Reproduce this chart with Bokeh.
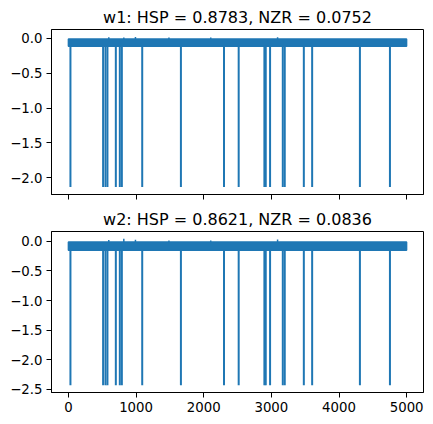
from bokeh.plotting import figure
from bokeh.layouts import column
from bokeh.models import Range1d, FixedTicker
from bokeh.embed import file_html
from bokeh.resources import INLINE

# ---- data ----
n_samples = 5000
spike_x = [30, 513, 548, 577, 701, 760, 790, 1091, 1663, 2300, 2517,
           2897, 2917, 2981, 3169, 3198, 3480, 3603, 4309, 4753]
w1_spike_y = [-2.13, -2.13, -2.13, -2.13, -2.13, -2.13, -2.13, -2.13, -2.13, -2.13,
              -2.13, -2.13, -2.13, -2.13, -2.13, -2.13, -2.13, -2.13, -2.13, -2.13]
w2_spike_y = [-2.43, -2.43, -2.43, -2.43, -2.43, -2.43, -2.43, -2.43, -2.43, -2.43,
              -2.43, -2.43, -2.43, -2.43, -2.43, -2.43, -2.43, -2.43, -2.43, -2.43]
peak_x = [597, 819, 991, 1486, 2104, 3092]
w1_peak_y = [0.015, 0.01, 0.0175, 0.01, 0.01, 0.015]
w2_peak_y = [0.02, 0.042, 0.025, 0.015, 0.015, 0.03]
w1_band = [-0.01, -0.115]   # upper, lower edge of the dense noise
w2_band = [-0.01, -0.15]

titles = ["w1: HSP = 0.8783, NZR = 0.0752", "w2: HSP = 0.8621, NZR = 0.0836"]
x_ticks = [0, 1000, 2000, 3000, 4000, 5000]
x_tick_labels = ["0", "1000", "2000", "3000", "4000", "5000"]
w1_y_ticks = [0.0, -0.5, -1.0, -1.5, -2.0]
w1_y_labels = ["0.0", "\u22120.5", "\u22121.0", "\u22121.5", "\u22122.0"]
w2_y_ticks = [0.0, -0.5, -1.0, -1.5, -2.0, -2.5]
w2_y_labels = ["0.0", "\u22120.5", "\u22121.0", "\u22121.5", "\u22122.0", "\u22122.5"]

BLUE = "#1f77b4"
FONT = "DejaVu Sans"


def make_panel(title, band, sx, sy, px, py, yticks, ylabels, height,
               border_top, border_bottom, show_xlabels):
    x0, x1 = 0, n_samples - 1
    xpad = 0.05 * (x1 - x0)
    lo = min(sy)
    hi = max(max(py), band[0])
    ypad = 0.05 * (hi - lo)
    p = figure(width=433, height=height, output_backend="svg", toolbar_location=None,
               x_range=Range1d(x0 - xpad, x1 + xpad), y_range=Range1d(lo - ypad, hi + ypad),
               min_border_left=51, min_border_right=10,
               min_border_top=border_top, min_border_bottom=border_bottom)
    p.title.text = title
    p.title.text_font = FONT
    p.title.text_font_size = "16px"
    p.title.text_font_style = "normal"
    p.title.text_color = "black"
    p.title.align = "center"
    p.title.standoff = 6
    p.grid.visible = False
    p.outline_line_color = "black"
    p.outline_line_width = 1
    p.background_fill_color = "white"
    p.border_fill_color = "white"

    p.quad(left=[x0], right=[x1], top=[band[0]], bottom=[band[1]],
           fill_color=BLUE, line_color=BLUE, line_width=1.5)
    p.segment(x0=sx, y0=[band[1]] * len(sx), x1=sx, y1=sy, line_color=BLUE, line_width=2)
    p.segment(x0=px, y0=[band[0]] * len(px), x1=px, y1=py, line_color=BLUE, line_width=1.5)

    for ax in (p.xaxis[0], p.yaxis[0]):
        ax.axis_line_color = "black"
        ax.major_tick_line_color = "black"
        ax.major_tick_out = 5
        ax.major_tick_in = 0
        ax.minor_tick_line_color = None
        ax.major_label_text_font = FONT
        ax.major_label_text_font_size = "13.3px"
        ax.major_label_text_color = "black"
        ax.major_label_standoff = 4
    p.xaxis.ticker = FixedTicker(ticks=x_ticks)
    if show_xlabels:
        p.xaxis.major_label_overrides = {t: l for t, l in zip(x_ticks, x_tick_labels)}
    else:
        p.xaxis.major_label_overrides = {t: "" for t in x_ticks}
    p.yaxis.ticker = FixedTicker(ticks=yticks)
    p.yaxis.major_label_overrides = {t: l for t, l in zip(yticks, ylabels)}
    return p


p1 = make_panel(titles[0], w1_band, spike_x, w1_spike_y, peak_x, w1_peak_y,
                w1_y_ticks, w1_y_labels, 204, 29, 10, False)
p2 = make_panel(titles[1], w2_band, spike_x, w2_spike_y, peak_x, w2_peak_y,
                w2_y_ticks, w2_y_labels, 220, 24, 32, True)

layout = column(p1, p2, spacing=0)
open("out.html", "w").write(file_html(layout, INLINE))
